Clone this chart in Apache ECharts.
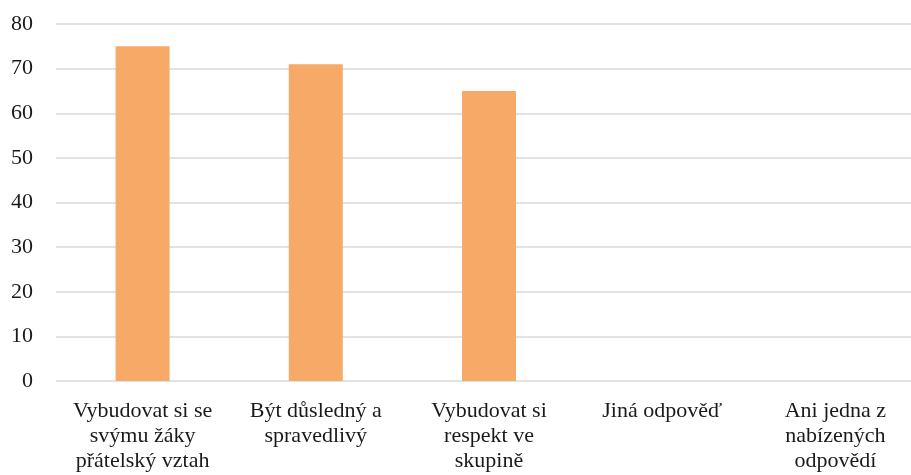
<!DOCTYPE html>
<html>
<head>
<meta charset="utf-8">
<script src="https://cdn.jsdelivr.net/npm/echarts@6/dist/echarts.min.js"></script>
<style>
  html, body { margin: 0; padding: 0; background: #fff; overflow: hidden; }
  #chart { width: 922px; height: 475px; }
</style>
</head>
<body>
<div id="chart"></div>
<script>
// Answer categories (line breaks as shown under the axis)
const categories = [
  'Vybudovat si se\nsvýmu žáky\npřátelský vztah',
  'Být důsledný a\nspravedlivý',
  'Vybudovat si\nrespekt ve\nskupině',
  'Jiná odpověď',
  'Ani jedna z\nnabízených\nodpovědí'
];
// Number of responses per category
const values = [75, 71, 65, 0, 0];
// Value axis ticks
const yTicks = [0, 10, 20, 30, 40, 50, 60, 70, 80];

const chart = echarts.init(document.getElementById('chart'));
chart.setOption({
  animation: false,
  backgroundColor: '#ffffff',
  grid: { left: 56, right: 0, top: 24, bottom: 94, containLabel: false },
  xAxis: {
    type: 'category',
    data: categories,
    axisLine: { show: false },
    axisTick: { show: false },
    axisLabel: {
      interval: 0,
      margin: 18,
      fontFamily: 'Liberation Serif',
      fontSize: 22,
      lineHeight: 25,
      color: '#1a1a1a'
    }
  },
  yAxis: {
    type: 'value',
    min: yTicks[0],
    max: yTicks[yTicks.length - 1],
    interval: 10,
    axisLine: { show: false },
    axisTick: { show: false },
    splitLine: { lineStyle: { color: '#d9d9d9', width: 1.5 } },
    axisLabel: {
      margin: 23,
      fontFamily: 'Liberation Serif',
      fontSize: 22,
      color: '#1a1a1a'
    }
  },
  series: [{
    type: 'bar',
    data: values,
    barWidth: 54,
    itemStyle: { color: '#f7a968' }
  }]
});
</script>
</body>
</html>
